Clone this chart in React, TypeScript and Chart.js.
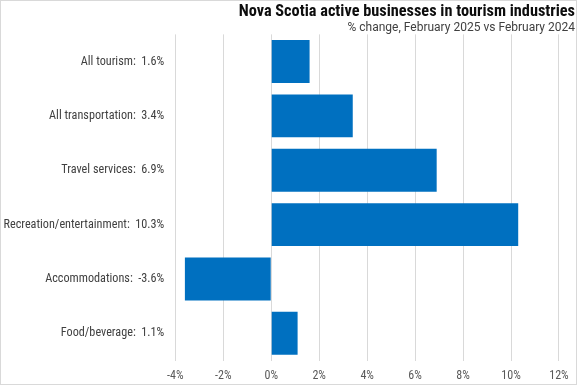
import { useEffect, useRef } from "react";
import { Chart, registerables } from "chart.js";

Chart.register(...registerables);

const categories = [
  "All tourism",
  "All transportation",
  "Travel services",
  "Recreation/entertainment",
  "Accommodations",
  "Food/beverage",
];
const values = [1.6, 3.4, 6.9, 10.3, -3.6, 1.1];
const xMin = -4;
const xMax = 12;
const xStep = 2;
const titleText = "Nova Scotia active businesses in tourism industries";
const subtitleText = "% change, February 2025 vs February 2024";

const FONT = "Roboto, 'DejaVu Sans Condensed', Arial, sans-serif";

const borderPlugin = {
  id: "outerBorder",
  afterDraw(chart: any) {
    const { ctx, width, height } = chart;
    ctx.save();
    ctx.strokeStyle = "#d9d9d9";
    ctx.lineWidth = 1;
    ctx.strokeRect(0.5, 0.5, width - 1, height - 1);
    ctx.restore();
  },
};

export default function App() {
  const ref = useRef<HTMLCanvasElement | null>(null);

  useEffect(() => {
    document.body.style.margin = "0";
    if (!ref.current) return;
    const labels = categories.map((c, i) => `${c}:  ${values[i]}%`);
    const chart = new Chart(ref.current, {
      type: "bar",
      data: {
        labels,
        datasets: [
          {
            data: values,
            backgroundColor: "#0070c0",
            borderWidth: 0,
            categoryPercentage: 1,
            barPercentage: 0.79,
          },
        ],
      },
      plugins: [borderPlugin],
      options: {
        indexAxis: "y",
        animation: false,
        responsive: false,
        devicePixelRatio: 1,
        layout: { padding: { left: 0, right: 2, top: 0, bottom: 0 } },
        plugins: {
          legend: { display: false },
          tooltip: { enabled: false },
          title: {
            display: true,
            text: titleText,
            align: "end",
            color: "#0d0d0d",
            font: { family: FONT, size: 16.3, weight: "bold condensed", lineHeight: 1.2 },
            padding: { top: 2.4, bottom: 0 },
          },
          subtitle: {
            display: true,
            text: subtitleText,
            align: "end",
            color: "#404040",
            font: { family: FONT, size: 12, lineHeight: 1 },
            padding: { top: 0, bottom: 0.4 },
          },
        },
        scales: {
          x: {
            type: "linear",
            min: xMin,
            max: xMax,
            position: "bottom",
            grid: { color: "#d9d9d9", drawTicks: false },
            border: { display: false },
            ticks: {
              stepSize: xStep,
              padding: 8.3,
              color: "#595959",
              font: { family: FONT, size: 12, weight: "condensed" },
              callback: (v: any) => `${v}%`,
            },
            afterFit: (s: any) => {
              s.height = 24.5;
            },
          },
          y: {
            type: "category",
            position: "left",
            grid: { display: false, drawTicks: false },
            border: { display: false },
            ticks: {
              padding: 11,
              color: "#404040",
              font: { family: FONT, size: 12.2, weight: "condensed" },
            },
            afterFit: (s: any) => {
              s.width = 175.3;
            },
          },
          rightSpace: {
            type: "category",
            position: "right",
            display: true,
            grid: { display: false, drawTicks: false },
            border: { display: false },
            ticks: { display: false },
            afterFit: (s: any) => {
              s.width = 15.7;
            },
          },
        },
      } as any,
    });
    return () => chart.destroy();
  }, []);

  return (
    <div style={{ width: 577, height: 385 }}>
      <canvas ref={ref} width={577} height={385} />
    </div>
  );
}
